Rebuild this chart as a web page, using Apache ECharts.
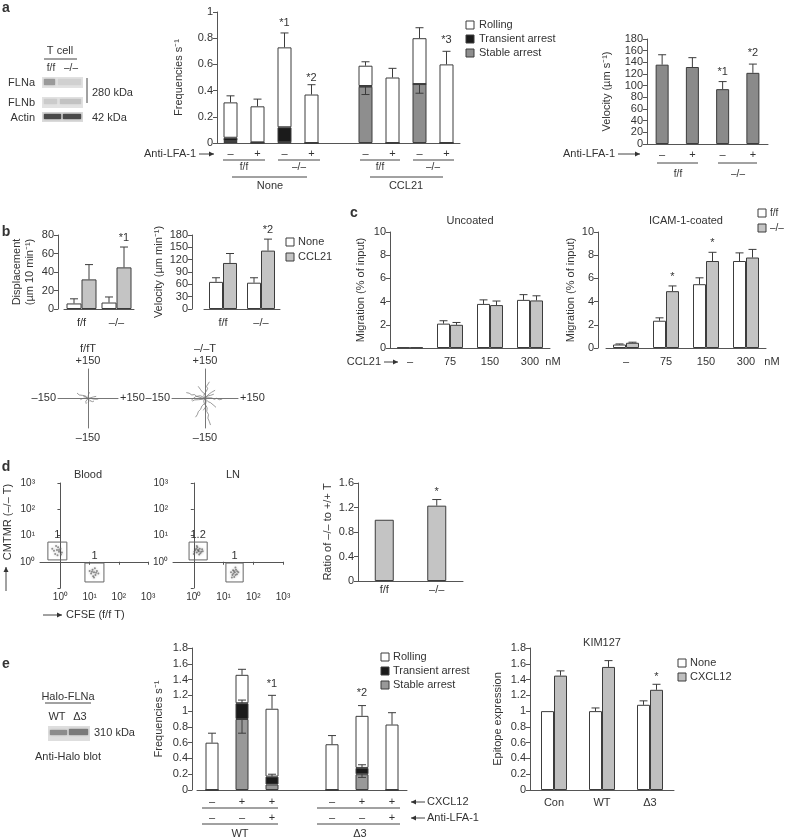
<!DOCTYPE html>
<html>
<head>
<meta charset="utf-8">
<title>FLNa figure</title>
<script src="https://cdn.jsdelivr.net/npm/echarts@6.0.0/dist/echarts.min.js"></script>
<style>
  html, body { margin: 0; padding: 0; background: #fff; }
  #chart { width: 788px; height: 840px; }
</style>
</head>
<body>
<div id="chart"></div>
<script>
// ---------- values ----------
// a: adhesion frequencies (s^-1); slot 4 is the gap between None and CCL21
var aSigns = ['–', '+', '–', '+', '', '–', '+', '–', '+'];
var aStable = [0.015, 0.002, 0.005, 0, null, 0.43, 0, 0.45, 0];
var aTransient = [0.025, 0.003, 0.115, 0, null, 0.005, 0, 0, 0];
var aRolling = [0.27, 0.275, 0.61, 0.37, null, 0.155, 0.5, 0.35, 0.6];
var aTopErr = [0.36, 0.335, 0.84, 0.445, null, 0.62, 0.57, 0.88, 0.70];
var aStableLow = [null, null, null, null, null, 0.37, null, 0.38, null];
var aStarAt = [2, 3, 8];
var aStarVal = [0.92, 0.5, 0.79];
var aStarText = ['*1', '*2', '*3'];

// a: rolling velocity (um s^-1)
var velSigns = ['–', '+', '–', '+'];
var vel = [136, 132, 94, 122];
var velErr = [153, 148, 107, 137];
var velStarAt = [2, 3];
var velStarVal = [123, 156];
var velStarText = ['*1', '*2'];

// b: displacement and velocity in LN
var genotypes = ['f/f', '–/–'];
var dispNone = [6, 7];
var dispNoneErr = [11, 13];
var dispCcl = [32, 45];
var dispCclErr = [48, 67];
var speedNone = [66, 64];
var speedNoneErr = [76, 76];
var speedCcl = [112, 142];
var speedCclErr = [135, 170];

// b: cell tracks (um), f/f and -/- T cells
var ffTracks = [
  [[0, 0], [-6, 4], [-12, 12], [-20, 9], [-28, 16], [-36, 20], [-44, 18], [-55, 28]],
  [[0, 0], [6, 5], [13, 1], [20, 4], [28, -3], [36, 1], [44, -4], [52, -2]],
  [[0, 0], [-4, -6], [-9, -5], [-11, -14], [-6, -20], [-9, -27]],
  [[0, 0], [4, 7], [1, 13], [6, 19], [4, 26], [10, 31]],
  [[0, 0], [-7, -2], [-13, 3], [-21, -4], [-29, -1], [-38, -6]],
  [[0, 0], [6, -4], [10, -11], [17, -9], [22, -16], [30, -13]],
  [[0, 0], [-3, 6], [-9, 4], [-13, 10], [-19, 7], [-24, 13]],
  [[0, 0], [8, 6], [14, 4], [20, 10], [27, 8], [34, 13], [41, 11]],
  [[0, 0], [3, -6], [-2, -10], [4, -15], [0, -19]]
];
var koTracks = [
  [[0, 0], [-9, 6], [-18, 4], [-27, 13], [-38, 11], [-48, 20], [-60, 18], [-72, 27], [-85, 30]],
  [[0, 0], [4, 12], [-2, 24], [6, 37], [12, 50], [7, 62], [14, 74], [20, 85]],
  [[0, 0], [5, -15], [2, -32], [10, -48], [8, -66], [16, -82], [13, -100], [20, -118], [25, -135]],
  [[0, 0], [-6, -12], [-3, -26], [-14, -38], [-20, -55], [-30, -66], [-35, -82], [-43, -95]],
  [[0, 0], [11, 4], [20, -2], [31, 3], [42, -4], [53, 1], [65, -6], [78, -3]],
  [[0, 0], [-10, -4], [-18, 2], [-29, -6], [-38, -12], [-47, -7], [-58, -13]],
  [[0, 0], [7, 9], [13, 18], [22, 21], [29, 31], [38, 34], [46, 42]],
  [[0, 0], [-5, 14], [-3, 26], [-13, 34], [-20, 45], [-24, 55], [-31, 62]],
  [[0, 0], [9, -8], [15, -17], [25, -21], [32, -31], [41, -36], [50, -45]],
  [[0, 0], [-11, 9], [-22, 14], [-31, 8], [-42, 10], [-50, 1], [-62, -8]],
  [[0, 0], [-4, -9], [3, -18], [-2, -29], [5, -40], [-3, -50], [-8, -60]],
  [[0, 0], [10, 12], [18, 6], [25, 16], [34, 12], [40, 22]]
];

// c: transwell migration (% of input)
var doses = ['–', '75', '150', '300'];
var uncFf = [0.05, 2.1, 3.8, 4.15];
var uncFfErr = [null, 2.35, 4.15, 4.6];
var uncKo = [0.05, 2.0, 3.7, 4.1];
var uncKoErr = [null, 2.2, 4.05, 4.5];
var icamFf = [0.3, 2.35, 5.5, 7.5];
var icamFfErr = [0.35, 2.6, 6.05, 8.2];
var icamKo = [0.45, 4.9, 7.5, 7.8];
var icamKoErr = [0.5, 5.35, 8.25, 8.5];
var icamStarAt = [1, 2];
var icamStarVal = [6.1, 9.05];

// d: homing, flow gates in log10 units [x0, y0, x1, y1] and their ratios
var bloodGates = [[-0.43, 0.07, 0.22, 0.75], [0.84, -0.77, 1.49, -0.05]];
var bloodGateText = ['1', '1'];
var lnGates = [[-0.16, 0.07, 0.45, 0.75], [1.08, -0.77, 1.66, -0.05]];
var lnGateText = ['1.2', '1'];
var bloodKoCells = [[-0.12, 0.45], [-0.05, 0.38], [-0.18, 0.3], [0, 0.5], [-0.08, 0.55], [-0.22, 0.42], [0.05, 0.35], [-0.1, 0.25], [-0.15, 0.6], [0.02, 0.28], [-0.28, 0.5], [-0.05, 0.45]];
var bloodFfCells = [[1.15, -0.4], [1.1, -0.3], [1.2, -0.5], [1.05, -0.45], [1.25, -0.35], [1.18, -0.25], [1.12, -0.55], [1.3, -0.45], [1.0, -0.35], [1.15, -0.6], [1.22, -0.42], [1.08, -0.38]];
var lnKoCells = [[0.15, 0.42], [0.1, 0.35], [0.2, 0.5], [0.05, 0.45], [0.25, 0.38], [0.12, 0.55], [0.18, 0.28], [0.02, 0.38], [0.28, 0.48], [0.08, 0.5], [0.22, 0.32], [0.14, 0.46], [0.0, 0.3], [0.3, 0.4], [0.1, 0.6], [0.17, 0.4]];
var lnFfCells = [[1.38, -0.4], [1.32, -0.32], [1.45, -0.48], [1.3, -0.5], [1.42, -0.3], [1.36, -0.58], [1.5, -0.4], [1.25, -0.4], [1.4, -0.22], [1.33, -0.45], [1.46, -0.36], [1.35, -0.35], [1.28, -0.6], [1.4, -0.5]];
var decades = [0, 1, 2, 3];
var ratio = [1.0, 1.23];
var ratioErr = [null, 1.33];

// e: Halo-FLNa WT / delta3 adhesion; slot 3 is the gap
var eSigns = ['–\n–', '+\n–', '+\n+', '', '–\n–', '+\n–', '+\n+'];
var eStable = [0, 0.9, 0.07, null, 0, 0.2, 0];
var eTransient = [0, 0.2, 0.1, null, 0, 0.08, 0];
var eRolling = [0.6, 0.36, 0.86, null, 0.58, 0.66, 0.83];
var eTopErr = [0.72, 1.53, 1.2, null, 0.69, 1.07, 0.98];
var eArrestHigh = [null, 1.14, 0.2, null, null, 0.32, null];
var eStableLow = [null, 0.72, null, null, null, 0.16, null];
var eStarAt = [2, 5];
var eStarVal = [1.34, 1.23];
var eStarText = ['*1', '*2'];

// e: KIM127 epitope expression
var kimCats = ['Con', 'WT', 'Δ3'];
var kimNone = [1.0, 1.0, 1.08];
var kimNoneErr = [null, 1.04, 1.13];
var kimCx = [1.45, 1.56, 1.27];
var kimCxErr = [1.51, 1.64, 1.34];

// ---------- helpers ----------
var FONT = '"Liberation Sans", Arial, sans-serif';
var INK = '#333', AXC = '#555', EDGE = '#3c3c3c';
var WHITE = '#ffffff', BLACK = '#1b1b1b', MID = '#8e8e8e', LIGHT = '#c4c4c4';
var sup = ['⁰', '¹', '²', '³'];
var grids = [], xAxes = [], yAxes = [], series = [], gfx = [];

function panel(box, xa, ya) {
  var i = grids.length;
  grids.push(box);
  xa.gridIndex = i; ya.gridIndex = i;
  xAxes.push(xa); yAxes.push(ya);
  return i;
}
function catAxis(cats, margin, extra) {
  return Object.assign({
    type: 'category', data: cats,
    axisLine: { lineStyle: { color: AXC } },
    axisTick: { interval: 0, length: 4, lineStyle: { color: AXC } },
    axisLabel: { interval: 0, color: INK, fontSize: 11, fontFamily: FONT, margin: margin }
  }, extra || {});
}
function valAxis(min, max, step, name, gap, extra) {
  return Object.assign({
    type: 'value', min: min, max: max, interval: step,
    name: name, nameLocation: 'middle', nameRotate: 90, nameGap: gap,
    nameTextStyle: { color: INK, fontSize: 11, fontFamily: FONT, lineHeight: 13 },
    axisLine: { show: true, lineStyle: { color: AXC } },
    axisTick: { show: true, length: 4, lineStyle: { color: AXC } },
    axisLabel: { color: INK, fontSize: 11, fontFamily: FONT, margin: 4 },
    splitLine: { show: false }
  }, extra || {});
}
function bars(gi, data, fill, w, extra) {
  series.push(Object.assign({
    type: 'bar', xAxisIndex: gi, yAxisIndex: gi, data: data, barWidth: w,
    itemStyle: { color: fill, borderColor: EDGE, borderWidth: 1 }, silent: true
  }, extra || {}));
}
function sumOf() {
  var arrs = arguments;
  return arrs[0].map(function (v, i) {
    if (v == null) return null;
    var s = 0;
    for (var k = 0; k < arrs.length; k++) s += arrs[k][i] || 0;
    return s;
  });
}
function errItems(base, ends) {
  var out = [];
  ends.forEach(function (t, i) { if (t != null && base[i] != null) out.push([i, base[i], t]); });
  return out;
}
function errors(gi, items, dx, cap) {
  series.push({
    type: 'custom', xAxisIndex: gi, yAxisIndex: gi, data: items, silent: true, z: 4, clip: false,
    renderItem: function (p, api) {
      var a = api.coord([api.value(0), api.value(1)]);
      var b = api.coord([api.value(0), api.value(2)]);
      var x = a[0] + dx, h = cap / 2;
      return { type: 'group', children: [
        { type: 'line', shape: { x1: x, y1: a[1], x2: x, y2: b[1] }, style: { stroke: EDGE, lineWidth: 1 } },
        { type: 'line', shape: { x1: x - h, y1: b[1], x2: x + h, y2: b[1] }, style: { stroke: EDGE, lineWidth: 1 } }
      ] };
    }
  });
}
function marks(gi, at, vals, texts, dx) {
  series.push({
    type: 'custom', xAxisIndex: gi, yAxisIndex: gi, silent: true, z: 5, clip: false,
    data: at.map(function (c, k) { return [c, vals[k]]; }),
    renderItem: function (p, api) {
      var pt = api.coord([api.value(0), api.value(1)]);
      return { type: 'text', x: pt[0] + (dx || 0), y: pt[1], style: {
        text: texts[p.dataIndex], fill: INK, font: '11px ' + FONT,
        align: 'center', verticalAlign: 'middle', textAlign: 'center', textVerticalAlign: 'middle' } };
    }
  });
}
function gates(gi, boxes, labels) {
  series.push({
    type: 'custom', xAxisIndex: gi, yAxisIndex: gi, silent: true, clip: false, data: boxes,
    renderItem: function (p, api) {
      var a = api.coord([api.value(0), api.value(3)]);
      var b = api.coord([api.value(2), api.value(1)]);
      return { type: 'group', children: [
        { type: 'rect', shape: { x: a[0], y: a[1], width: b[0] - a[0], height: b[1] - a[1] }, style: { fill: 'none', stroke: '#666', lineWidth: 1 } },
        { type: 'text', x: (a[0] + b[0]) / 2, y: a[1] - 7, style: { text: labels[p.dataIndex], fill: INK, font: '11px ' + FONT,
          align: 'center', verticalAlign: 'middle', textAlign: 'center', textVerticalAlign: 'middle' } }
      ] };
    }
  });
}
function cells(gi, pts) {
  series.push({ type: 'scatter', xAxisIndex: gi, yAxisIndex: gi, data: pts, symbolSize: 2, silent: true,
    itemStyle: { color: '#666', opacity: 0.7, shadowBlur: 3, shadowColor: 'rgba(0,0,0,0.35)' } });
}
function tracks(gi, list) {
  list.forEach(function (tr) {
    series.push({ type: 'line', xAxisIndex: gi, yAxisIndex: gi, data: tr, symbol: 'none', silent: true,
      lineStyle: { color: '#707070', width: 0.7 } });
  });
}
function txt(x, y, s, o) {
  o = o || {};
  gfx.push({ type: 'text', x: x, y: y, rotation: o.rot || 0, silent: true, style: {
    text: s, fill: INK, font: (o.bold ? 'bold ' : '') + (o.size || 11) + 'px ' + FONT,
    align: o.align || 'center', verticalAlign: 'middle', textAlign: o.align || 'center', textVerticalAlign: 'middle' } });
}
function seg(x1, y1, x2, y2) {
  gfx.push({ type: 'line', silent: true, shape: { x1: x1, y1: y1, x2: x2, y2: y2 }, style: { stroke: '#444', lineWidth: 1 } });
}
function box(x, y, w, h, fill, stroke, blur) {
  gfx.push({ type: 'rect', silent: true, shape: { x: x, y: y, width: w, height: h },
    style: { fill: fill, stroke: stroke || null, lineWidth: 1, shadowBlur: blur || 0, shadowColor: fill } });
}
function key(x, y, fill) { box(x - 4, y - 4, 8, 8, fill, EDGE); }
function arrow(x1, y1, x2, y2) {
  seg(x1, y1, x2, y2);
  var a = Math.atan2(y2 - y1, x2 - x1), s = 5, w = 2.5;
  var bx = x2 - s * Math.cos(a), by = y2 - s * Math.sin(a);
  gfx.push({ type: 'polygon', silent: true, shape: { points: [[x2, y2], [bx + w * Math.sin(a), by - w * Math.cos(a)], [bx - w * Math.sin(a), by + w * Math.cos(a)]] }, style: { fill: '#333' } });
}
function axisOff() {
  return { type: 'value', min: -150, max: 150, axisLine: { onZero: true, lineStyle: { color: '#777' } },
    axisTick: { show: false }, axisLabel: { show: false }, splitLine: { show: false } };
}
function flowX() {
  return { type: 'value', min: -0.7, max: 3,
    axisLine: { lineStyle: { color: AXC } },
    axisTick: { customValues: decades, length: 3, lineStyle: { color: AXC } },
    axisLabel: { customValues: decades, color: INK, fontSize: 10, fontFamily: FONT, margin: 4,
      formatter: function (v) { return '10' + sup[Math.round(v)]; } },
    splitLine: { show: false } };
}
function flowY() {
  return { type: 'value', min: -1, max: 3, interval: 1,
    axisLine: { show: true, lineStyle: { color: AXC } },
    axisTick: { length: 3, lineStyle: { color: AXC } },
    axisLabel: { color: INK, fontSize: 10, fontFamily: FONT, margin: 5,
      formatter: function (v) { return v < 0 ? '' : '10' + sup[Math.round(v)]; } },
    splitLine: { show: false } };
}

// ---------- panel a ----------
var gA = panel({ left: 217, top: 12, width: 243, height: 131 },
  catAxis(aSigns, 5), valAxis(0, 1, 0.2, 'Frequencies s⁻¹', 32));
bars(gA, aStable, MID, 14, { stack: 'a' });
bars(gA, aTransient, BLACK, 14, { stack: 'a' });
bars(gA, aRolling, WHITE, 14, { stack: 'a' });
errors(gA, errItems(sumOf(aStable, aTransient, aRolling), aTopErr), 0, 8);
errors(gA, errItems(aStable, aStableLow), 0, 8);
marks(gA, aStarAt, aStarVal, aStarText);

var gV = panel({ left: 647, top: 39, width: 121, height: 105 },
  catAxis(velSigns, 5), valAxis(0, 180, 20, 'Velocity (µm s⁻¹)', 34));
bars(gV, vel, '#8a8a8a', 13);
errors(gV, errItems(vel, velErr), 0, 8);
marks(gV, velStarAt, velStarVal, velStarText);

// ---------- panel b ----------
var gD = panel({ left: 64, top: 235, width: 70, height: 74 },
  catAxis(genotypes, 8), valAxis(0, 80, 20, 'Displacement\n(µm 10 min⁻¹)', 22, { offset: 6 }));
bars(gD, dispNone, WHITE, 15, { barGap: '0%' });
bars(gD, dispCcl, LIGHT, 15, { barGap: '0%' });
errors(gD, errItems(dispNone, dispNoneErr), -7.5, 8);
errors(gD, errItems(dispCcl, dispCclErr), 7.5, 8);
marks(gD, [1], [77], ['*1'], 7.5);

var gS = panel({ left: 204, top: 235, width: 76, height: 74 },
  catAxis(genotypes, 8), valAxis(0, 180, 30, 'Velocity (µm min⁻¹)', 20, { offset: 12 }));
bars(gS, speedNone, WHITE, 14, { barGap: '0%' });
bars(gS, speedCcl, LIGHT, 14, { barGap: '0%' });
errors(gS, errItems(speedNone, speedNoneErr), -7, 8);
errors(gS, errItems(speedCcl, speedCclErr), 7, 8);
marks(gS, [1], [192], ['*2'], 7);

var gTf = panel({ left: 58, top: 369, width: 60, height: 59 }, axisOff(), axisOff());
tracks(gTf, ffTracks);
var gTk = panel({ left: 172, top: 369, width: 66, height: 59 }, axisOff(), axisOff());
tracks(gTk, koTracks);

// ---------- panel c ----------
var gU = panel({ left: 390, top: 232, width: 160, height: 116 },
  catAxis(doses, 8), valAxis(0, 10, 2, 'Migration (% of input)', 23));
bars(gU, uncFf, WHITE, 13, { barGap: '0%' });
bars(gU, uncKo, LIGHT, 13, { barGap: '0%' });
errors(gU, errItems(uncFf, uncFfErr), -6.5, 8);
errors(gU, errItems(uncKo, uncKoErr), 6.5, 8);

var gI = panel({ left: 606, top: 232, width: 160, height: 116 },
  catAxis(doses, 8), valAxis(0, 10, 2, 'Migration (% of input)', 17, { offset: 8 }));
bars(gI, icamFf, WHITE, 13, { barGap: '0%' });
bars(gI, icamKo, LIGHT, 13, { barGap: '0%' });
errors(gI, errItems(icamFf, icamFfErr), -6.5, 8);
errors(gI, errItems(icamKo, icamKoErr), 6.5, 8);
marks(gI, icamStarAt, icamStarVal, ['*', '*'], 6.5);

// ---------- panel d ----------
var gB = panel({ left: 40, top: 483, width: 108, height: 105 }, flowX(), flowY());
cells(gB, bloodKoCells);
cells(gB, bloodFfCells);
gates(gB, bloodGates, bloodGateText);
var gL = panel({ left: 173, top: 483, width: 110, height: 105 }, flowX(), flowY());
cells(gL, lnKoCells);
cells(gL, lnFfCells);
gates(gL, lnGates, lnGateText);

var gR = panel({ left: 358, top: 483, width: 105, height: 98 },
  catAxis(genotypes, 3), valAxis(0, 1.6, 0.4, 'Ratio of –/– to +/+ T', 21));
bars(gR, ratio, LIGHT, 19);
errors(gR, errItems(ratio, ratioErr), 0, 9);
marks(gR, [1], [1.45], ['*']);

// ---------- panel e ----------
var gE = panel({ left: 197, top: 648, width: 210, height: 142 },
  catAxis(eSigns, 4, { axisLabel: { interval: 0, color: INK, fontSize: 11, fontFamily: FONT, margin: 4, lineHeight: 16 } }),
  valAxis(0, 1.8, 0.2, 'Frequencies s⁻¹', 27, { offset: 5 }));
bars(gE, eStable, '#999999', 13, { stack: 'e' });
bars(gE, eTransient, BLACK, 13, { stack: 'e' });
bars(gE, eRolling, WHITE, 13, { stack: 'e' });
errors(gE, errItems(sumOf(eStable, eTransient, eRolling), eTopErr), 0, 8);
errors(gE, errItems(sumOf(eStable, eTransient), eArrestHigh), 0, 8);
errors(gE, errItems(eStable, eStableLow), 0, 8);
marks(gE, eStarAt, eStarVal, eStarText);

var gK = panel({ left: 530, top: 648, width: 144, height: 142 },
  catAxis(kimCats, 7), valAxis(0, 1.8, 0.2, 'Epitope expression', 26));
bars(gK, kimNone, WHITE, 13, { barGap: '0%' });
bars(gK, kimCx, '#bfbfbf', 13, { barGap: '0%' });
errors(gK, errItems(kimNone, kimNoneErr), -6.5, 8);
errors(gK, errItems(kimCx, kimCxErr), 6.5, 8);
marks(gK, [2], [1.43], ['*'], 6.5);

// ---------- annotations ----------
txt(6, 8, 'a', { bold: true, size: 14 });
txt(6, 232, 'b', { bold: true, size: 14 });
txt(354, 213, 'c', { bold: true, size: 14 });
txt(6, 467, 'd', { bold: true, size: 14 });
txt(6, 664, 'e', { bold: true, size: 14 });

// a: western blot
txt(60, 51, 'T cell');
seg(44, 59, 77, 59);
txt(51, 68, 'f/f', { size: 10 });
txt(71, 68, '–/–', { size: 10 });
txt(35, 83, 'FLNa', { align: 'right' });
txt(35, 103, 'FLNb', { align: 'right' });
txt(35, 118, 'Actin', { align: 'right' });
box(42, 77, 41, 11, '#e2e2e2');
box(44, 79, 11, 6, '#9a9a9a', null, 2);
box(58, 79, 23, 6, '#d0d0d0', null, 2);
box(42, 97, 41, 11, '#e2e2e2');
box(44, 99, 13, 5, '#cbcbcb', null, 2);
box(60, 99, 21, 5, '#c2c2c2', null, 2);
box(42, 112, 41, 10, '#dadada');
box(44, 114, 17, 5, '#4a4a4a', null, 2);
box(63, 114, 18, 5, '#4a4a4a', null, 2);
seg(87, 78, 87, 103);
txt(92, 93, '280 kDa', { align: 'left' });
txt(92, 118, '42 kDa', { align: 'left' });

// a: frequency groups
txt(196, 154, 'Anti-LFA-1', { align: 'right' });
arrow(199, 154, 214, 154);
seg(223, 160, 265, 160); seg(278, 160, 320, 160);
seg(360, 160, 400, 160); seg(413, 160, 454, 160);
txt(244, 167, 'f/f', { size: 10 }); txt(299, 167, '–/–', { size: 10 });
txt(380, 167, 'f/f', { size: 10 }); txt(433, 167, '–/–', { size: 10 });
seg(232, 177, 307, 177); seg(370, 177, 443, 177);
txt(270, 186, 'None'); txt(406, 186, 'CCL21');
key(470, 25, WHITE); txt(479, 25, 'Rolling', { align: 'left' });
key(470, 39, BLACK); txt(479, 39, 'Transient arrest', { align: 'left' });
key(470, 53, MID); txt(479, 53, 'Stable arrest', { align: 'left' });

// a: velocity groups
txt(615, 154, 'Anti-LFA-1', { align: 'right' });
arrow(618, 154, 640, 154);
seg(657, 163, 698, 163); seg(718, 163, 757, 163);
txt(678, 174, 'f/f', { size: 10 }); txt(738, 174, '–/–', { size: 10 });

// b
key(290, 242, WHITE); txt(298, 242, 'None', { align: 'left' });
key(290, 257, LIGHT); txt(298, 257, 'CCL21', { align: 'left' });
txt(88, 349, 'f/fT'); txt(88, 361, '+150'); txt(88, 438, '–150');
txt(56, 398, '–150', { align: 'right' }); txt(120, 398, '+150', { align: 'left' });
txt(205, 349, '–/–T'); txt(205, 361, '+150'); txt(205, 438, '–150');
txt(170, 398, '–150', { align: 'right' }); txt(240, 398, '+150', { align: 'left' });

// c
txt(470, 221, 'Uncoated');
txt(686, 221, 'ICAM-1-coated');
txt(381, 362, 'CCL21', { align: 'right' });
arrow(384, 362, 398, 362);
txt(553, 362, 'nM');
txt(772, 362, 'nM');
key(762, 213, WHITE); txt(770, 213, 'f/f', { align: 'left', size: 10 });
key(762, 228, LIGHT); txt(770, 228, '–/–', { align: 'left', size: 10 });

// d
txt(88, 475, 'Blood');
txt(233, 475, 'LN');
txt(8, 522, 'CMTMR (–/– T)', { rot: Math.PI / 2 });
arrow(6, 591, 6, 567);
arrow(43, 615, 62, 615);
txt(66, 615, 'CFSE (f/f T)', { align: 'left' });

// e: blot
txt(68, 697, 'Halo-FLNa');
seg(45, 703, 91, 703);
txt(57, 717, 'WT');
txt(80, 717, 'Δ3');
box(48, 726, 42, 15, '#dedede');
box(50, 730, 17, 5, '#8c8c8c', null, 2);
box(69, 729, 19, 6, '#7a7a7a', null, 2);
txt(94, 733, '310 kDa', { align: 'left' });
txt(68, 757, 'Anti-Halo blot');

// e: frequency groups
seg(202, 808, 278, 808); seg(317, 808, 400, 808);
seg(202, 824, 278, 824); seg(317, 824, 400, 824);
txt(240, 834, 'WT'); txt(360, 834, 'Δ3');
arrow(425, 802, 411, 802); txt(427, 802, 'CXCL12', { align: 'left' });
arrow(425, 818, 411, 818); txt(427, 818, 'Anti-LFA-1', { align: 'left' });
key(385, 657, WHITE); txt(393, 657, 'Rolling', { align: 'left' });
key(385, 671, BLACK); txt(393, 671, 'Transient arrest', { align: 'left' });
key(385, 685, '#999999'); txt(393, 685, 'Stable arrest', { align: 'left' });

// e: KIM127
txt(602, 643, 'KIM127');
key(682, 663, WHITE); txt(690, 663, 'None', { align: 'left' });
key(682, 677, '#bfbfbf'); txt(690, 677, 'CXCL12', { align: 'left' });

var chart = echarts.init(document.getElementById('chart'));
chart.setOption({
  animation: false,
  backgroundColor: '#fff',
  textStyle: { fontFamily: FONT },
  grid: grids,
  xAxis: xAxes,
  yAxis: yAxes,
  series: series,
  graphic: { elements: gfx }
});
</script>
</body>
</html>
